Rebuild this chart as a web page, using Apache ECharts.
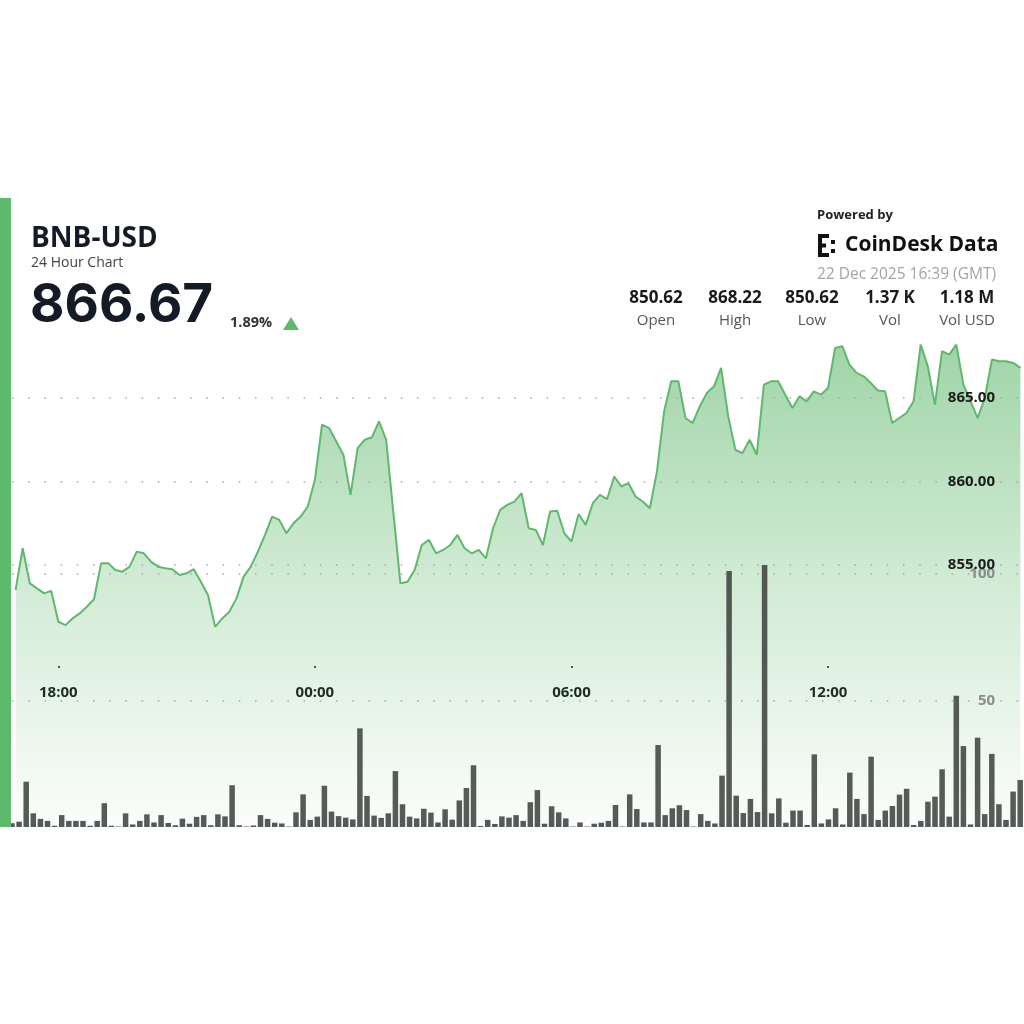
<!DOCTYPE html>
<html><head><meta charset="utf-8">
<script src="https://cdn.jsdelivr.net/npm/echarts@6/dist/echarts.min.js"></script>
<style>html,body{margin:0;padding:0;background:#fff}#c{width:1024px;height:1024px}</style>
</head><body><div id="c"></div>
<script>
// ---- data (10-minute steps) ----
const prices = [
853.5,856.0,853.9,853.6,853.3,853.45,851.6,851.4,851.8,852.1,
852.5,852.95,855.1,855.1,854.7,854.6,854.9,855.8,855.7,855.2,
854.9,854.8,854.75,854.4,854.5,854.75,854.0,853.2,851.3,851.8,
852.2,853.0,854.3,854.9,855.8,856.8,857.9,857.7,856.9,857.5,
857.9,858.5,860.1,863.4,863.2,862.4,861.6,859.2,862.0,862.5,
862.65,863.6,862.5,858.2,853.9,854.0,854.7,856.2,856.5,855.7,
855.9,856.2,856.8,856.0,855.7,855.9,855.4,857.2,858.3,858.6,
858.8,859.3,857.2,857.1,856.2,858.2,858.25,856.9,856.4,858.05,
857.4,858.7,859.2,858.95,860.3,859.7,859.9,859.1,858.8,858.4,
860.6,864.2,866.0,866.0,863.8,863.5,864.5,865.3,865.7,866.8,
863.9,861.9,861.7,862.5,861.6,865.8,866.0,866.0,865.2,864.4,
865.1,864.8,865.4,865.2,865.6,868.0,868.1,867.0,866.5,866.3,
865.9,865.45,865.4,863.5,863.8,864.1,864.8,868.2,866.9,864.6,
867.8,867.6,868.2,865.8,864.8,863.8,865.0,867.3,867.2,867.2,
867.1,866.8
];
const volumes = [
1.5,2.1,17.9,5.4,3.2,2.4,0.5,4.7,2.4,2.4,
2.4,0.5,2.4,9.4,0.5,0.2,5.4,1.0,2.4,5.0,
1.8,4.7,1.6,0.7,3.3,1.3,4.0,4.7,0.7,5.0,
4.2,16.5,0.7,0.2,0.6,4.7,3.2,1.7,1.4,0.2,
5.8,12.9,2.8,4.1,16.3,6.1,4.3,3.7,3.0,39.0,
12.3,4.5,3.6,5.4,22.1,9.0,4.1,3.4,7.2,5.7,
1.8,7.0,2.9,10.5,15.4,24.4,0.4,2.8,1.2,4.2,
3.7,4.7,2.4,9.8,14.6,1.3,8.2,5.8,3.4,0.2,
1.8,0.2,1.3,1.7,2.4,8.7,0.2,12.9,7.1,1.8,
1.8,32.4,4.7,7.4,8.6,6.7,0.2,5.1,2.4,1.4,
20.3,101.2,12.4,5.5,11.1,5.9,103.6,5.4,11.3,1.7,
6.5,6.5,0.8,28.7,1.4,3.0,7.4,1.0,21.5,11.1,
5.1,27.8,2.8,6.5,8.3,12.8,15.1,0.8,2.4,10.0,
12.0,22.8,4.1,51.9,32.0,1.0,35.3,5.1,28.9,9.0,
2.8,14.0,18.6
];
const priceTicks = [855, 860, 865];
const volumeTicks = [50, 100];
const timeTickLabels = ['18:00', '00:00', '06:00', '12:00'];
const lineStartMinutes = 17 * 60;
const barStartMinutes = 16 * 60 + 55;
const stepMinutes = 10;

const pair = 'BNB-USD';
const subtitle = '24 Hour Chart';
const lastPrice = '866.67';
const changePct = '1.89%';
const timestamp = '22 Dec 2025 16:39 (GMT)';
const statValues = ['850.62', '868.22', '850.62', '1.37 K', '1.18 M'];
const statLabels = ['Open', 'High', 'Low', 'Vol', 'Vol USD'];

function buildTimes(start, count) {
  const out = [];
  for (let i = 0; i < count; i++) {
    const m = (start + i * stepMinutes) % 1440;
    const h = Math.floor(m / 60), mm = m % 60;
    out.push(String(h).padStart(2, '0') + ':' + String(mm).padStart(2, '0'));
  }
  return out;
}
const lineTimes = buildTimes(lineStartMinutes, prices.length);
const barTimes = buildTimes(barStartMinutes, volumes.length);

const FONT = '"Open Sans", "Noto Sans", sans-serif';
const BIGFONT = 'Inter, "Open Sans", sans-serif';
const GREEN = '#5dba6b';
const DARK = '#141a26';

const statCenters = [656, 735, 812, 890, 967];
const graphics = [
  { type: 'rect', shape: { x: 0, y: 198, width: 11, height: 629 }, style: { fill: GREEN }, z: 100 },
  { type: 'text', x: 31, y: 239, style: { text: pair, font: 'bold 28px ' + FONT, fill: DARK, verticalAlign: 'middle' } },
  { type: 'text', x: 31, y: 263, style: { text: subtitle, font: '14px ' + FONT, fill: '#444', verticalAlign: 'middle' } },
  { type: 'text', x: 30, y: 306, style: { text: lastPrice, font: 'bold 53px ' + BIGFONT, fill: DARK, verticalAlign: 'middle' } },
  { type: 'text', x: 230, y: 323, style: { text: changePct, font: 'bold 14.5px ' + FONT, fill: '#333', verticalAlign: 'middle' } },
  { type: 'polygon', shape: { points: [[283, 330], [299, 330], [291, 317]] }, style: { fill: GREEN } },
  { type: 'text', x: 817, y: 215.5, style: { text: 'Powered by', font: 'bold 13px ' + FONT, fill: '#222', verticalAlign: 'middle' } },
  { type: 'rect', shape: { x: 818, y: 234, width: 4, height: 23 }, style: { fill: '#111' } },
  { type: 'rect', shape: { x: 818, y: 234, width: 11, height: 4 }, style: { fill: '#111' } },
  { type: 'rect', shape: { x: 818, y: 253, width: 11, height: 4 }, style: { fill: '#111' } },
  { type: 'rect', shape: { x: 822, y: 243.5, width: 4, height: 4 }, style: { fill: '#111' } },
  { type: 'rect', shape: { x: 831, y: 240, width: 4, height: 4 }, style: { fill: '#111' } },
  { type: 'rect', shape: { x: 831, y: 249, width: 4, height: 4 }, style: { fill: '#111' } },
  { type: 'text', x: 845, y: 245, style: { text: 'CoinDesk Data', font: 'bold 21px ' + FONT, fill: '#111', verticalAlign: 'middle' } },
  { type: 'text', x: 996, y: 274.5, style: { text: timestamp, font: '15.5px ' + FONT, fill: '#a4a4a4', align: 'right', verticalAlign: 'middle' } }
];
statValues.forEach((v, i) => {
  graphics.push({ type: 'text', x: statCenters[i], y: 298, style: { text: v, font: 'bold 17px ' + FONT, fill: '#1a1a1a', align: 'center', verticalAlign: 'middle' } });
  graphics.push({ type: 'text', x: statCenters[i], y: 321, style: { text: statLabels[i], font: '15px ' + FONT, fill: '#555', align: 'center', verticalAlign: 'middle' } });
});

const dotted = { type: [1.5, 14.7], width: 1.5, color: '#a8a8a8' };

const option = {
  animation: false,
  backgroundColor: '#ffffff',
  grid: [
    { left: 12, top: 314.5, width: 1015.3, height: 511 },
    { left: 12, top: 447.5, width: 1008.2, height: 379.5 }
  ],
  xAxis: [
    {
      type: 'category', gridIndex: 0, data: lineTimes, boundaryGap: true,
      offset: -159.5,
      axisLine: { show: false },
      axisTick: { show: true, alignWithLabel: true, length: 2, lineStyle: { color: '#444', width: 2 },
        interval: (idx, val) => timeTickLabels.includes(val) },
      axisLabel: { interval: (idx, val) => timeTickLabels.includes(val), color: '#111', fontWeight: 'bold',
        fontSize: 15, fontFamily: FONT, margin: 19 },
      splitLine: { show: false }
    },
    { type: 'category', gridIndex: 1, data: barTimes, boundaryGap: false, show: false }
  ],
  yAxis: [
    {
      type: 'value', gridIndex: 0, position: 'right', min: 839.4, max: 870, z: 10,
      axisLine: { show: false },
      axisTick: { show: false, customValues: priceTicks },
      axisLabel: { inside: true, customValues: priceTicks, margin: 29, formatter: v => Number(v).toFixed(2),
        color: '#1c1c1c', fontWeight: 'bold', fontSize: 15, fontFamily: FONT },
      splitLine: { show: true, lineStyle: dotted }
    },
    {
      type: 'value', gridIndex: 1, position: 'right', min: 0, max: 150, z: 9,
      axisLine: { show: false },
      axisTick: { show: false, customValues: volumeTicks },
      axisLabel: { inside: true, customValues: volumeTicks, margin: 25,
        color: '#8c8c8c', fontWeight: 'bold', fontSize: 15, fontFamily: FONT },
      splitLine: { show: true, lineStyle: dotted }
    }
  ],
  series: [
    {
      type: 'line', xAxisIndex: 0, yAxisIndex: 0, data: prices, showSymbol: false, z: 2,
      lineStyle: { color: '#5fb86c', width: 2 },
      areaStyle: {
        origin: 'start',
        color: { type: 'linear', x: 0, y: 0, x2: 0, y2: 1, colorStops: [
          { offset: 0, color: 'rgba(95,184,108,0.85)' },
          { offset: 0.5, color: 'rgba(95,184,108,0.4)' },
          { offset: 1, color: 'rgba(95,184,108,0.04)' }
        ] }
      }
    },
    {
      type: 'bar', xAxisIndex: 1, yAxisIndex: 1, data: volumes, barWidth: 5.5, z: 3,
      itemStyle: { color: 'rgba(58,62,58,0.85)' }
    }
  ],
  graphic: graphics
};
const chart = echarts.init(document.getElementById('c'), null, { renderer: 'canvas' });
chart.setOption(option);
</script></body></html>
